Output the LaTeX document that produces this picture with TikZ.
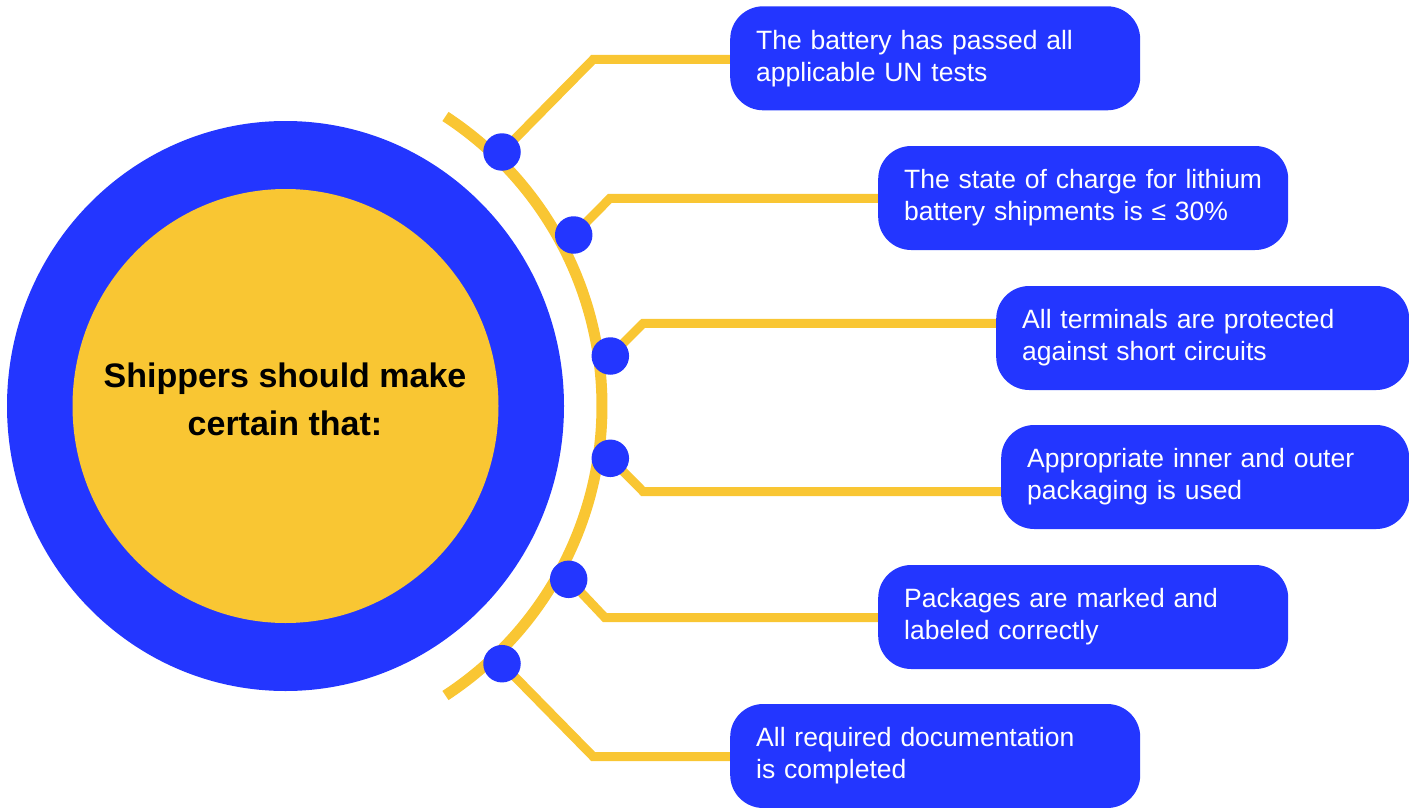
\documentclass[tikz,border=0pt]{standalone}
\usepackage{fontspec}
\setmainfont{Liberation Sans}
\usetikzlibrary{backgrounds,shapes.geometric}
\definecolor{cblue}{RGB}{35,54,255}
\definecolor{cyellow}{RGB}{249,198,51}
\begin{document}
\begin{tikzpicture}[x=1pt,y=-1pt,
  infobox/.style={fill=cblue, text=white, rounded corners=33pt, anchor=west,
    inner xsep=26pt, inner ysep=0pt, minimum height=104pt, align=left,
    font=\fontsize{26.5}{32}\selectfont},
  dotnode/.style={circle, fill=cblue, minimum size=37.5pt, inner sep=0pt},
  link/.style={draw=cyellow, line width=9pt},
  ringline/.style={draw=cyellow, line width=11pt},
]
\useasboundingbox (0,0) rectangle (1409,808);
% central circles
\node[ellipse, fill=cblue, minimum width=557pt, minimum height=570pt, inner sep=0pt] (outer) at (285.5,406) {};
\node[ellipse, fill=cyellow, minimum width=426pt, minimum height=434pt, inner sep=0pt] (inner) at (285.5,406) {};
\node[font=\bfseries\fontsize{34}{48.5}\selectfont, align=center, inner sep=0pt] (title) at (285,399.5) {Shippers should make\\certain that:};
% boxes
\node[infobox, text width=358pt] (t1) at (730,58.3) {The battery has passed all\\applicable UN tests};
\node[infobox, text width=358pt] (t2) at (878,198) {The state of charge for lithium\\battery shipments is ≤ 30\%};
\node[infobox, text width=361pt] (t3) at (996,338) {All terminals are protected\\against short circuits};
\node[infobox, text width=356pt] (t4) at (1001,477) {Appropriate inner and outer\\packaging is used};
\node[infobox, text width=358pt] (t5) at (878,617) {Packages are marked and\\labeled correctly};
\node[infobox, text width=358pt] (t6) at (730,756) {All required documentation\\is completed};
% dots
\node[dotnode] (d1) at (502,152) {};
\node[dotnode] (d2) at (573.7,235) {};
\node[dotnode] (d3) at (610.3,356) {};
\node[dotnode] (d4) at (610.3,458.3) {};
\node[dotnode] (d5) at (568.7,579.3) {};
\node[dotnode] (d6) at (502,663.7) {};
% bends
\coordinate (b1) at (593.3,59.3);
\coordinate (b2) at (610,198.3);
\coordinate (b3) at (643.3,323.3);
\coordinate (b4) at (643.3,491.7);
\coordinate (b5) at (605,617.7);
\coordinate (b6) at (593.3,756.7);
\begin{scope}[on background layer]
\coordinate (arcc) at (256,406);
\draw[ringline] (arcc) ++(-56.8:346) arc[start angle=-56.8, end angle=56.8, radius=346];
\draw[link] (d1.center) -- (b1) -- (b1 -| t1.west);
\draw[link] (d2.center) -- (b2) -- (b2 -| t2.west);
\draw[link] (d3.center) -- (b3) -- (b3 -| t3.west);
\draw[link] (d4.center) -- (b4) -- (b4 -| t4.west);
\draw[link] (d5.center) -- (b5) -- (b5 -| t5.west);
\draw[link] (d6.center) -- (b6) -- (b6 -| t6.west);
\end{scope}
\end{tikzpicture}
\end{document}
